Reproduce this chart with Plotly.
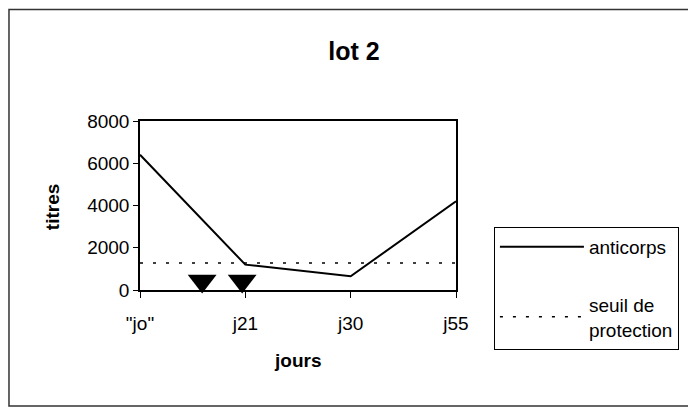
import plotly.graph_objects as go

# data
jours = ['"jo"', "j21", "j30", "j55"]
jours_pos = [0, 1, 2, 3]
anticorps = [6400, 1200, 650, 4200]
seuil = [1280, 1280, 1280, 1280]
# injection markers (between "jo" and j21)
injection_x = [0.59, 0.97]
injection_y = [430, 430]

FONT = "Liberation Sans"

fig = go.Figure()
fig.add_trace(go.Scatter(
    x=jours_pos, y=anticorps, name="anticorps", mode="lines",
    line=dict(color="black", width=2), legendgroup="a",
))
fig.add_trace(go.Scatter(
    x=jours_pos, y=seuil, name="seuil de<br>protection", mode="lines",
    line=dict(color="black", width=1.5, dash="3px,10px"), legendgroup="b",
))
fig.add_trace(go.Scatter(
    x=injection_x, y=injection_y, mode="markers", showlegend=False,
    marker=dict(symbol="triangle-down", size=25, color="black"),
    cliponaxis=False,
))

fig.update_xaxes(
    range=[0, 3], tickvals=jours_pos, ticktext=jours,
    showline=True, linecolor="black", linewidth=1.5, mirror=True,
    ticks="outside", ticklen=6, tickcolor="black",
    showgrid=False, zeroline=False, ticklabelstandoff=9,
    tickfont=dict(family=FONT, size=19, color="black"),
)
fig.update_yaxes(
    range=[0, 8000], tickvals=[0, 2000, 4000, 6000, 8000],
    showline=True, linecolor="black", linewidth=1.5, mirror=True,
    ticks="outside", ticklen=5, tickcolor="black",
    showgrid=False, zeroline=False,
    tickfont=dict(family=FONT, size=19, color="black"),
)

fig.add_annotation(text="<b>jours</b>", xref="paper", yref="paper",
                   x=0.497, y=-0.42, xanchor="center", yanchor="middle",
                   showarrow=False,
                   font=dict(family=FONT, size=19, color="black"))
fig.add_annotation(text="<b>titres</b>", xref="paper", yref="paper",
                   x=-0.278, y=0.491, xanchor="center", yanchor="middle",
                   showarrow=False, textangle=-90,
                   font=dict(family=FONT, size=19, color="black"))

# outer chart border
fig.add_shape(type="rect", xref="paper", yref="paper",
              x0=-0.4146, x1=1.7405, y0=-0.686, y1=1.66,
              line=dict(color="#333333", width=1.5))

# page body has an 8px margin, so the figure is 8px smaller than the window
fig.update_layout(
    width=688, height=401,
    margin=dict(l=132, r=240, t=113, b=119),
    paper_bgcolor="white", plot_bgcolor="white",
    title=dict(text="<b>lot 2</b>", x=0.503, xanchor="center",
               y=0.893, yanchor="middle", yref="container",
               font=dict(family=FONT, size=25, color="black")),
    legend=dict(x=1.12, xanchor="left", y=0.373, yanchor="top",
                bordercolor="black", borderwidth=1, bgcolor="white",
                itemwidth=84, tracegroupgap=30,
                font=dict(family=FONT, size=19, color="black")),
    showlegend=True,
)

fig.write_html("out.html")
